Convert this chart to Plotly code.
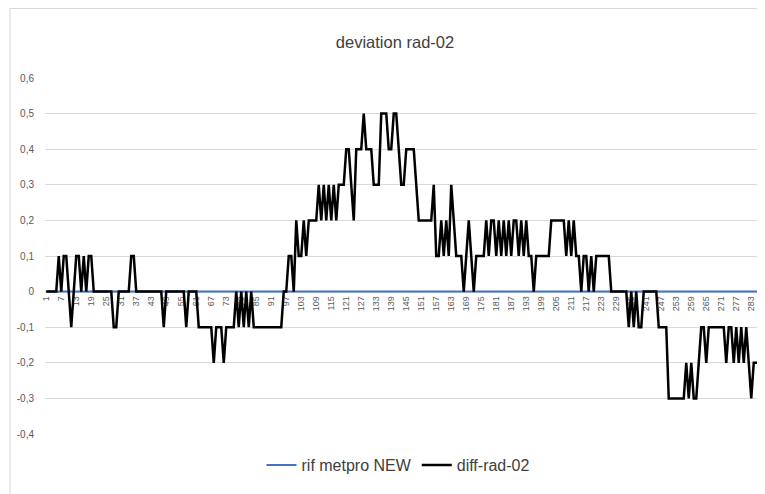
import plotly.graph_objects as go

# ---- data ----
categories = list(range(1, 289))

rif_metpro_new = [0.0] * 288

diff_rad_02 = [
    0, 0, 0, 0, 0, 0.1, 0, 0.1, 0.1, 0,                          # 0-9
    -0.1, 0, 0.1, 0.1, 0, 0.1, 0, 0.1, 0.1, 0,                   # 10-19
    0, 0, 0, 0, 0, 0, 0, -0.1, -0.1, 0,                          # 20-29
    0, 0, 0, 0, 0.1, 0.1, 0, 0, 0, 0,                            # 30-39
    0, 0, 0, 0, 0, 0, 0, -0.1, 0, 0,                             # 40-49
    0, 0, 0, 0, 0, 0, -0.1, 0, 0, 0,                             # 50-59
    0, -0.1, -0.1, -0.1, -0.1, -0.1, -0.1, -0.2, -0.1, -0.1,     # 60-69
    -0.1, -0.2, -0.1, -0.1, -0.1, -0.1, 0, -0.1, 0, -0.1,        # 70-79
    0, -0.1, 0, -0.1, -0.1, -0.1, -0.1, -0.1, -0.1, -0.1,        # 80-89
    -0.1, -0.1, -0.1, -0.1, -0.1, 0, 0, 0.1, 0.1, 0,             # 90-99
    0.2, 0.1, 0.1, 0.2, 0.1, 0.2, 0.2, 0.2, 0.2, 0.3,            # 100-109
    0.2, 0.3, 0.2, 0.3, 0.2, 0.3, 0.2, 0.3, 0.3, 0.3,            # 110-119
    0.4, 0.4, 0.3, 0.2, 0.4, 0.4, 0.4, 0.5, 0.4, 0.4,            # 120-129
    0.4, 0.3, 0.3, 0.3, 0.5, 0.5, 0.5, 0.4, 0.4, 0.5,            # 130-139
    0.5, 0.4, 0.3, 0.3, 0.4, 0.4, 0.4, 0.4, 0.3, 0.2,            # 140-149
    0.2, 0.2, 0.2, 0.2, 0.2, 0.3, 0.1, 0.1, 0.2, 0.1,            # 150-159
    0.2, 0.1, 0.3, 0.2, 0.1, 0.1, 0.1, 0, 0.1, 0.2,              # 160-169
    0.1, 0, 0.1, 0.1, 0.1, 0.1, 0.2, 0.1, 0.2, 0.2,              # 170-179
    0.1, 0.2, 0.1, 0.2, 0.1, 0.2, 0.1, 0.2, 0.2, 0.1,            # 180-189
    0.2, 0.1, 0.2, 0.1, 0.1, 0, 0.1, 0.1, 0.1, 0.1,              # 190-199
    0.1, 0.1, 0.2, 0.2, 0.2, 0.2, 0.2, 0.2, 0.1, 0.2,            # 200-209
    0.1, 0.2, 0.1, 0.1, 0, 0.1, 0.1, 0, 0.1, 0,                  # 210-219
    0.1, 0.1, 0.1, 0.1, 0.1, 0.1, 0, 0, 0, 0,                    # 220-229
    0, 0, 0, -0.1, 0, -0.1, 0, -0.1, -0.1, 0,                    # 230-239
    0, 0, 0, 0, 0, -0.1, -0.1, -0.1, -0.1, -0.3,                 # 240-249
    -0.3, -0.3, -0.3, -0.3, -0.3, -0.3, -0.2, -0.3, -0.2, -0.3,  # 250-259
    -0.3, -0.2, -0.1, -0.1, -0.2, -0.1, -0.1, -0.1, -0.1, -0.1,  # 260-269
    -0.1, -0.1, -0.2, -0.1, -0.1, -0.2, -0.1, -0.2, -0.1, -0.2,  # 270-279
    -0.1, -0.2, -0.3, -0.2, -0.2, -0.2, -0.2, -0.1,              # 280-287
]

y_tick_values = [-0.4, -0.3, -0.2, -0.1, 0, 0.1, 0.2, 0.3, 0.4, 0.5, 0.6]
y_tick_labels = ["-0,4", "-0,3", "-0,2", "-0,1", "0", "0,1", "0,2", "0,3", "0,4", "0,5", "0,6"]

title_text = "deviation rad-02"
series_names = ["rif metpro NEW", "diff-rad-02"]

# ---- figure ----
# the page body adds an 8px offset, so the figure is laid out 8px up/left
FONT = "Liberation Sans, Arial, sans-serif"
OFF = 8
W, H = 765 - OFF, 494 - OFF
ML, MR, MT, MB = 45 - OFF, 0, 78 - OFF, 60
plot_w = W - ML - MR
plot_h = H - MT - MB

fig = go.Figure()
fig.add_trace(go.Scatter(
    x=categories, y=rif_metpro_new, mode="lines", name=series_names[0],
    line=dict(color="#4472C4", width=2),
))
fig.add_trace(go.Scatter(
    x=categories, y=diff_rad_02, mode="lines", name=series_names[1],
    line=dict(color="#000000", width=2.5),
))

ymin, ymax = y_tick_values[0], y_tick_values[-1]
zero_pos = (0 - ymin) / (ymax - ymin)

fig.update_layout(
    width=W, height=H,
    margin=dict(l=ML, r=MR, t=MT, b=MB, autoexpand=False),
    paper_bgcolor="white", plot_bgcolor="white",
    font=dict(family=FONT, color="#595959"),
    title=dict(text=title_text, x=(395 - OFF) / W, xref="container", xanchor="center",
               y=1 - (42 - OFF) / H, yref="container", yanchor="middle",
               font=dict(family=FONT, size=16.5, color="#404040")),
    showlegend=True,
    legend=dict(orientation="h", x=(398 - 45) / plot_w, xanchor="center",
                y=-(465 - 434) / plot_h, yanchor="middle",
                font=dict(family=FONT, size=16, color="#404040"),
                bgcolor="rgba(0,0,0,0)", itemwidth=30, tracegroupgap=0),
    xaxis=dict(
        type="linear", range=[0.5, len(categories) + 0.5],
        anchor="free", position=zero_pos, automargin=False,
        tickmode="linear", tick0=1, dtick=6, tickangle=-90,
        tickfont=dict(family=FONT, size=9, color="#595959"),
        showgrid=False, zeroline=False, showline=True, linecolor="#d9d9d9",
        ticks="", layer="below traces",
    ),
    yaxis=dict(
        range=[ymin, ymax], tickvals=y_tick_values, ticktext=y_tick_labels,
        tickfont=dict(family=FONT, size=10, color="#595959"),
        showgrid=True, gridcolor="#d9d9d9", gridwidth=1, automargin=False,
        zeroline=False, showline=False, ticks="", ticklabelstandoff=10,
    ),
    shapes=[
        dict(type="line", xref="paper", yref="paper",
             x0=(10 - 45) / plot_w, x1=(10 - 45) / plot_w,
             y0=-MB / plot_h, y1=(plot_h + MT) / plot_h,
             line=dict(color="#d9d9d9", width=1)),
        dict(type="line", xref="paper", yref="paper",
             x0=(10 - 45) / plot_w, x1=1,
             y0=(plot_h + MT - 0.5) / plot_h, y1=(plot_h + MT - 0.5) / plot_h,
             line=dict(color="#d9d9d9", width=1)),
    ],
)

fig.write_html("out.html")
